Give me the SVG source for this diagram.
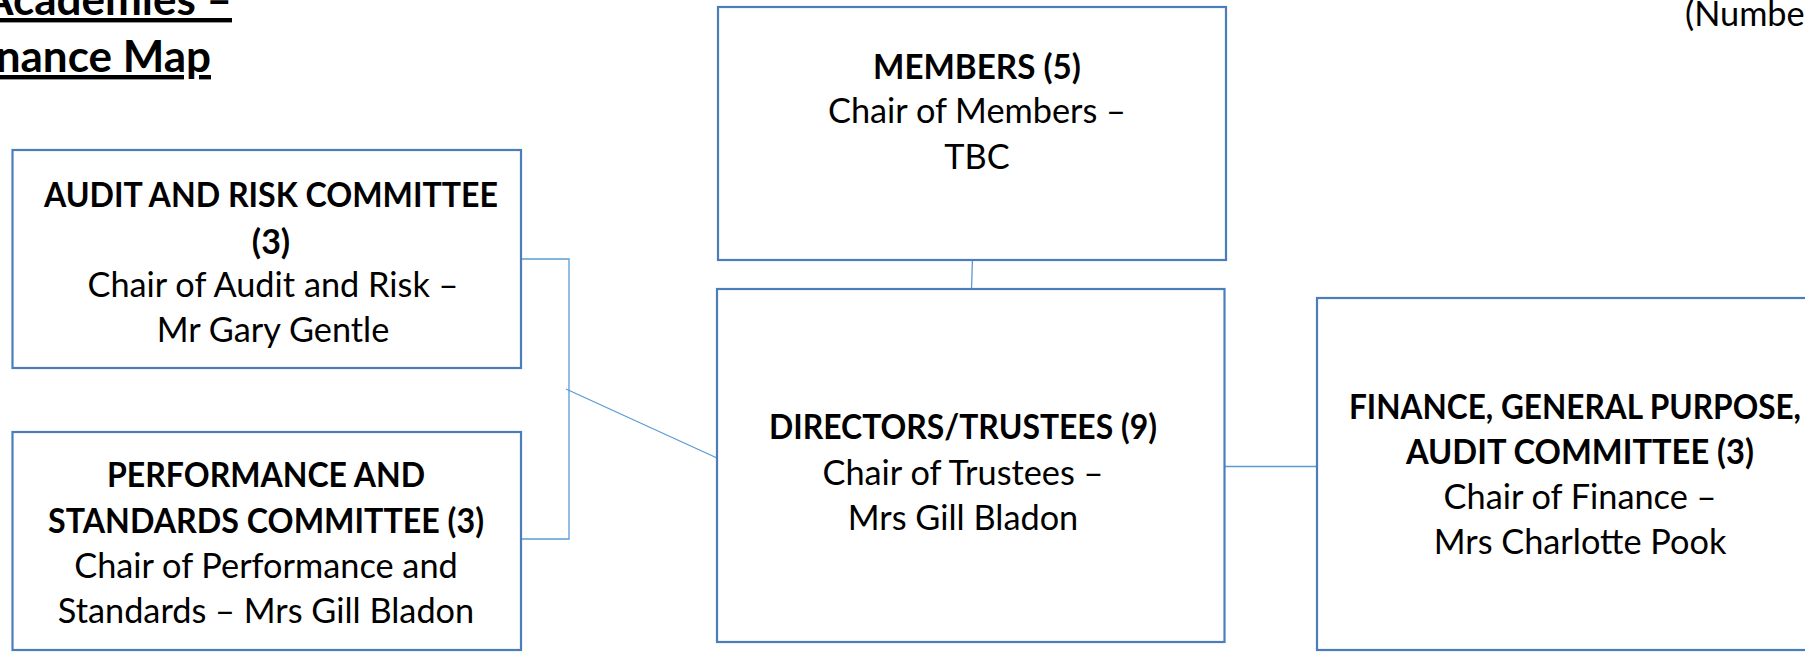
<svg xmlns="http://www.w3.org/2000/svg" width="1805" height="652" viewBox="0 0 1805 652">
<style>
.box{fill:#ffffff;stroke:#4A7EBB;stroke-width:2.2}
.con{fill:none;stroke:#5B9BD5;stroke-width:1.3}
.t{font-family:Lato,"Liberation Sans",sans-serif;font-size:34.3px;fill:#000;text-anchor:middle}
.b{font-weight:bold;font-size:34px}
.title{font-family:Lato,"Liberation Sans",sans-serif;font-size:44px;font-weight:bold;fill:#000;text-anchor:end;text-decoration:underline}
</style>
<rect width="1805" height="652" fill="#ffffff"/>
<g id="title">
<text class="title" x="232" y="15">Academies –</text>
<text class="title" x="211" y="72">nance Map</text>
</g>
<g id="note">
<text class="t" x="1685" y="26" style="text-anchor:start">(Numbe</text>
</g>
<g id="connectors">
<polyline class="con" points="521,259 569,259 569,539 521,539"/>
<line class="con" x1="566" y1="389" x2="717" y2="458"/>
<line class="con" x1="972.5" y1="258" x2="971.5" y2="289"/>
<line class="con" x1="1217" y1="466.5" x2="1317" y2="466.5"/>
</g>
<g id="audit">
<rect class="box" x="12.5" y="150" width="508.5" height="218"/>
<text class="t b" x="271" y="207" textLength="454" lengthAdjust="spacingAndGlyphs">AUDIT AND RISK COMMITTEE</text>
<text class="t b" x="271" y="254">(3)</text>
<text class="t" x="273" y="297">Chair of Audit and Risk –</text>
<text class="t" x="273" y="342">Mr Gary Gentle</text>
</g>
<g id="performance">
<rect class="box" x="12.5" y="432" width="508.5" height="218"/>
<text class="t b" x="266" y="487" textLength="318" lengthAdjust="spacingAndGlyphs">PERFORMANCE AND</text>
<text class="t b" x="266" y="533" textLength="436" lengthAdjust="spacingAndGlyphs">STANDARDS COMMITTEE (3)</text>
<text class="t" x="266" y="578">Chair of Performance and</text>
<text class="t" x="266" y="623">Standards – Mrs Gill Bladon</text>
</g>
<g id="members">
<rect class="box" x="718" y="7" width="508" height="253"/>
<text class="t b" x="977" y="79" textLength="208" lengthAdjust="spacingAndGlyphs">MEMBERS (5)</text>
<text class="t" x="977" y="123">Chair of Members –</text>
<text class="t" x="977" y="169">TBC</text>
</g>
<g id="directors">
<rect class="box" x="717" y="289" width="507.5" height="353"/>
<text class="t b" x="963" y="439" textLength="388" lengthAdjust="spacingAndGlyphs">DIRECTORS/TRUSTEES (9)</text>
<text class="t" x="963" y="485">Chair of Trustees –</text>
<text class="t" x="963" y="530">Mrs Gill Bladon</text>
</g>
<g id="finance">
<rect class="box" x="1317" y="298" width="600" height="352"/>
<text class="t b" x="1575" y="419" textLength="452" lengthAdjust="spacingAndGlyphs">FINANCE, GENERAL PURPOSE,</text>
<text class="t b" x="1580" y="464" textLength="348" lengthAdjust="spacingAndGlyphs">AUDIT COMMITTEE (3)</text>
<text class="t" x="1580" y="509">Chair of Finance –</text>
<text class="t" x="1580" y="554">Mrs Charlotte Pook</text>
</g>
</svg>
